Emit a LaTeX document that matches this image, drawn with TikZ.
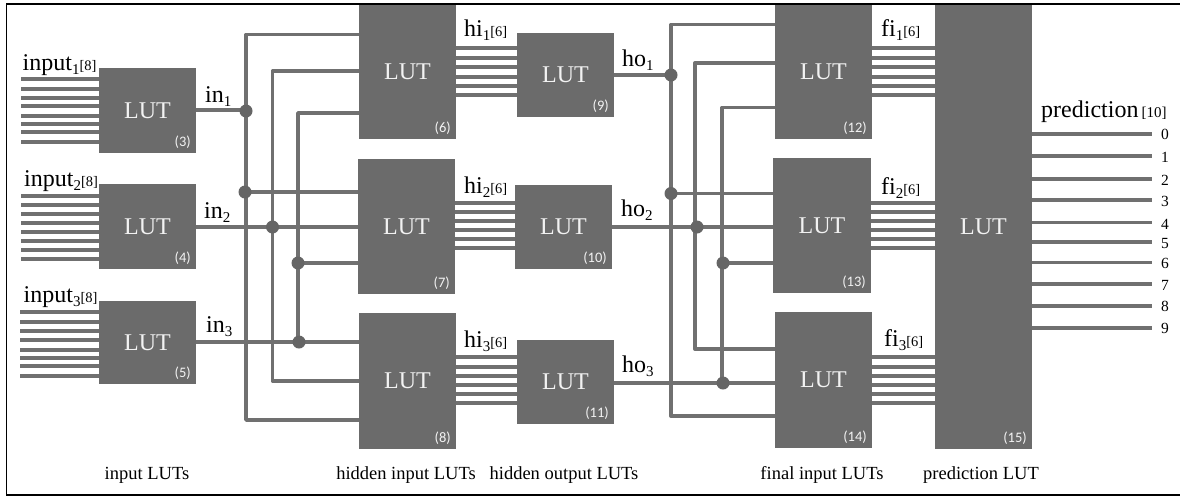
\documentclass[tikz,border=0pt]{standalone}
\usepackage{fontspec}
\setmainfont{Liberation Serif}
\newfontfamily\numfont{Carlito}
\definecolor{lutgray}{HTML}{6B6B6B}
\definecolor{wiregray}{HTML}{707070}
\newcommand{\lab}[3]{\fontsize{24}{26}\selectfont #1\raisebox{-4.5pt}{\fontsize{15}{16}\selectfont #2}{\fontsize{14.5}{16}\selectfont #3}}
\tikzset{
  x=1pt,y=-1pt,
  lut/.style={fill=lutgray,draw=none,text=white!92!gray},
  wire/.style={draw=wiregray,line width=3.4pt},
  bus/.style={draw=wiregray,line width=3.2pt},
  junction/.style={circle,fill=wiregray!90!black,minimum size=13pt,inner sep=0pt},
  luttext/.style={text=white!90!gray,font=\fontsize{24}{26}\selectfont},
  idx/.style={text=white!90!gray,font=\numfont\fontsize{14.5}{15}\selectfont,anchor=south east,inner sep=0pt},
  captext/.style={font=\fontsize{18.5}{20}\selectfont,anchor=center,inner sep=0pt},
  sig/.style={anchor=base west,inner sep=0pt},
  digit/.style={font=\fontsize{15.5}{17}\selectfont,inner sep=0pt}
}
% \lutblock{name}{x1}{y1}{x2}{y2}{index}
\newcommand{\lutblock}[6]{%
  \fill[lut] (#2,#3) rectangle (#4,#5);
  \coordinate (#1nw) at (#2,#3);
  \coordinate (#1se) at (#4,#5);
  \node[luttext] (#1) at ({(#2+#4)/2},{(#3+#5)/2}) {LUT};
  \node[idx] (#1i) at ({#4-5},{#5-4}) {(#6)};
}
\begin{document}
\begin{tikzpicture}
\useasboundingbox (0,0) rectangle (1180,496);
\fill[white] (0,0) rectangle (1180,496);

% wires below blocks
\foreach \yy in {79,89,98,106,116,124,132,142} \draw[bus] (21,\yy) -- (99,\yy);
\foreach \yy in {196,205,214,223,232,241,250,259} \draw[bus] (21,\yy) -- (99,\yy);
\foreach \yy in {312,322,331,340,350,358,366,376} \draw[bus] (20,\yy) -- (99,\yy);
\foreach \yy in {48,58,67,77,86,95} {\draw[bus] (456,\yy) -- (517,\yy); \draw[bus] (872,\yy) -- (935,\yy);}
\foreach \yy in {203,212,221,230,239,248} {\draw[bus] (455,\yy) -- (515,\yy); \draw[bus] (871,\yy) -- (935,\yy);}
\foreach \yy in {357,367,376,385,394,403} {\draw[bus] (456,\yy) -- (517,\yy); \draw[bus] (872,\yy) -- (935,\yy);}
\foreach \yy in {134,156,179,200,222.5,242,262.5,284,306,328} \draw[bus] (1032,\yy) -- (1152,\yy);

% blocks
\lutblock{a}{99}{68}{196}{153}{3}
\lutblock{b}{99}{184}{196}{269}{4}
\lutblock{c}{99}{301}{196}{384}{5}
\lutblock{d}{359}{5}{456}{139}{6}
\lutblock{e}{358}{159}{455}{294}{7}
\lutblock{f}{359}{313}{456}{449}{8}
\lutblock{g}{517}{33}{614}{117}{9}
\lutblock{h}{515}{185}{612}{269}{10}
\lutblock{k}{517}{340}{614}{424}{11}
\lutblock{l}{775}{5}{872}{139}{12}
\lutblock{m}{773}{158}{871}{293}{13}
\lutblock{n}{775}{312}{872}{448}{14}
\lutblock{p}{935}{5}{1032}{449}{15}

% connectors, hidden stage
\draw[wire] (196,110) -- (246,110);
\draw[wire,line join=round] (359,34.5) -- (246,34.5) -- (246,420) -- (359,420);
\draw[wire] (245,192) -- (358,192);
\draw[wire] (196,227) -- (358,227);
\draw[wire,line join=round] (359,71) -- (272.5,71) -- (272.5,381) -- (359,381);
\draw[wire] (196,342) -- (359,342);
\draw[wire,line join=round] (359,113) -- (298,113) -- (298,342);
\draw[wire] (298,263) -- (358,263);

% connectors, final stage
\draw[wire] (614,75) -- (671,75);
\draw[wire,line join=round] (775,24.5) -- (671,24.5) -- (671,416) -- (775,416);
\draw[wire] (671,193.5) -- (773,193.5);
\draw[wire] (612,227) -- (773,227);
\draw[wire,line join=round] (775,63) -- (695,63) -- (695,349) -- (775,349);
\draw[wire] (614,383) -- (775,383);
\draw[wire,line join=round] (775,107.5) -- (722,107.5) -- (722,383);
\draw[wire] (722,263) -- (773,263);

% junctions
\node[junction] (j1) at (246,111) {};
\node[junction] (j2) at (245,192) {};
\node[junction] (j3) at (272.5,227) {};
\node[junction] (j4) at (298,263) {};
\node[junction] (j5) at (299,342) {};
\node[junction] (j6) at (671,75) {};
\node[junction] (j7) at (671,193.5) {};
\node[junction] (j8) at (697,227) {};
\node[junction] (j9) at (723,263) {};
\node[junction] (j10) at (723,383) {};

% signal labels
\node[sig] (t1) at (22.5,70) {\lab{input}{1}{[8]}};
\node[sig] (t2) at (24,186) {\lab{input}{2}{[8]}};
\node[sig] (t3) at (23.5,302) {\lab{input}{3}{[8]}};
\node[sig] (t4) at (205,102) {\lab{in}{1}{}};
\node[sig] (t5) at (204,218) {\lab{in}{2}{}};
\node[sig] (t6) at (206,332) {\lab{in}{3}{}};
\node[sig] (t7) at (464,36) {\lab{hi}{1}{[6]}};
\node[sig] (t8) at (464,193) {\lab{hi}{2}{[6]}};
\node[sig] (t9) at (464,347) {\lab{hi}{3}{[6]}};
\node[sig] (t10) at (622,66) {\lab{ho}{1}{}};
\node[sig] (t11) at (621,216) {\lab{ho}{2}{}};
\node[sig] (t12) at (622,372) {\lab{ho}{3}{}};
\node[sig] (t13) at (881,36) {\lab{fi}{1}{[6]}};
\node[sig] (t14) at (881,194) {\lab{fi}{2}{[6]}};
\node[sig] (t15) at (884,346) {\lab{fi}{3}{[6]}};
\node[sig] (t16) at (1041,117) {\fontsize{24}{26}\selectfont prediction\kern3pt{\fontsize{15}{16}\selectfont [10]}};

% output digits
\foreach \dd/\yy in {0/134,1/157,2/180,3/201,4/224,5/243,6/263,7/285,8/306,9/328}
  \node[digit] (o\dd) at (1165,\yy) {\dd};

% captions
\node[captext] (c1) at (147,475) {input LUTs};
\node[captext] (c2) at (406,475) {hidden input LUTs};
\node[captext] (c3) at (564,475) {hidden output LUTs};
\node[captext] (c4) at (822,475) {final input LUTs};
\node[captext] (c5) at (981,475) {prediction LUT};

% frame
\draw[black,line width=1.6pt] (1180,4) -- (6.5,4) -- (6.5,495) -- (1180,495);
\end{tikzpicture}
\end{document}
